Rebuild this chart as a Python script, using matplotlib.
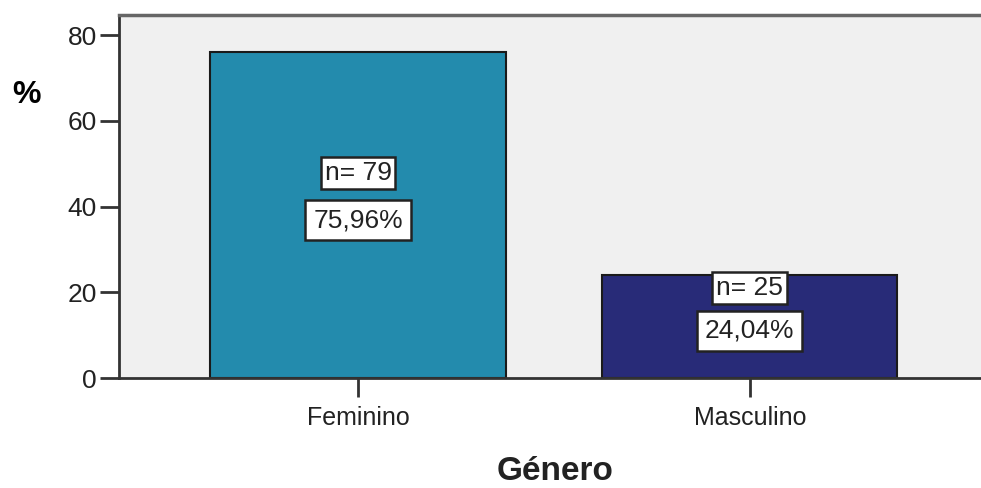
import numpy as np
import matplotlib.pyplot as plt

categories = ['Feminino', 'Masculino']
percent = [75.96, 24.04]
counts = [79, 25]
pct_labels = ['75,96%', '24,04%']
bar_colors = ['#238bad', '#282b78']

fig = plt.figure(figsize=(9.81, 4.88), dpi=100)
ax = fig.add_axes([0.1213, 0.2254, 0.8787, 0.7439])
ax.set_facecolor('#f0f0f0')

x = np.arange(len(categories))
ax.bar(x, percent, width=0.753, color=bar_colors, edgecolor='#1a1a1a', linewidth=1.5, zorder=2)

# SPSS-style labels inside bars (positions as fraction of bar height)
n_pos = [0.63, 0.87]
p_pos = [0.485, 0.46]
for i in range(len(categories)):
    ax.text(x[i], percent[i] * n_pos[i], f'n= {counts[i]}', ha='center', va='center',
            fontsize=19, family='Liberation Sans', color='#222222', zorder=3,
            bbox=dict(boxstyle='square,pad=0.15', facecolor='white', edgecolor='#222222', linewidth=1.8))
    ax.text(x[i], percent[i] * p_pos[i], pct_labels[i], ha='center', va='center',
            fontsize=19, family='Liberation Sans', color='#222222', zorder=4,
            bbox=dict(boxstyle='square,pad=0.3', facecolor='white', edgecolor='#222222', linewidth=1.8))

ax.set_xlim(-0.61, 1.59)
ax.set_ylim(0, 84.7)
ax.set_xticks(x)
ax.set_xticklabels(categories, fontsize=18, family='Liberation Sans', color='#222222')
ax.set_yticks([0, 20, 40, 60, 80])
ax.set_yticklabels(['0', '20', '40', '60', '80'], fontsize=19, family='Liberation Sans', color='#222222')
ax.tick_params(axis='both', length=14, width=2, color='#333333')
ax.tick_params(axis='x', pad=6)
ax.tick_params(axis='y', pad=2)

ax.spines['right'].set_visible(False)
ax.spines['left'].set_color('#333333')
ax.spines['left'].set_linewidth(2)
ax.spines['bottom'].set_color('#333333')
ax.spines['bottom'].set_linewidth(2)
ax.spines['top'].set_color('#666666')
ax.spines['top'].set_linewidth(2.5)

fig.text(0.027, 0.806, '%', fontsize=23, fontweight='bold', family='Liberation Sans', ha='center', va='center')
fig.text(0.566, 0.033, 'Género', fontsize=24, fontweight='bold', family='Liberation Sans',
         ha='center', va='center', color='#222222')

fig.savefig('out.png', dpi=100)
